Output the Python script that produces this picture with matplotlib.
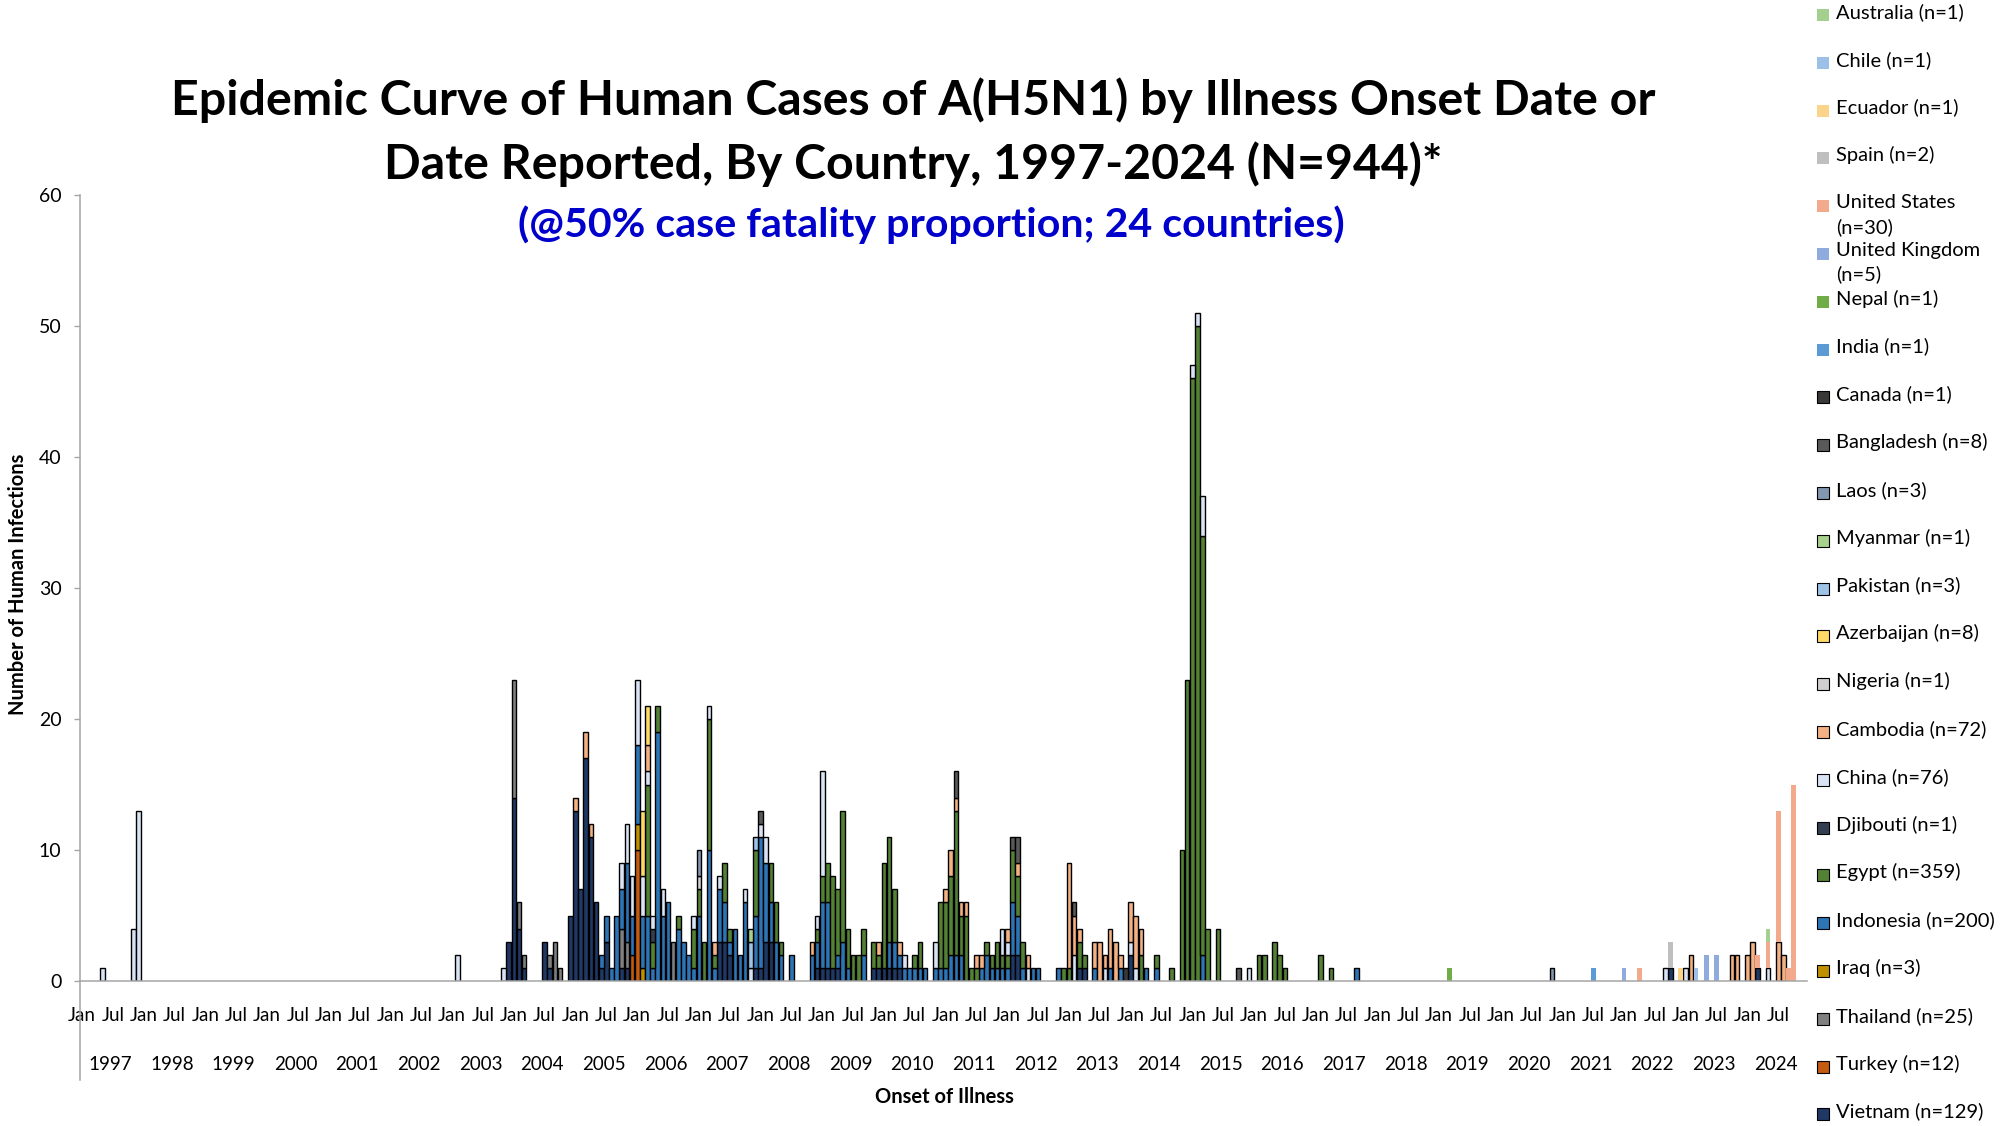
import matplotlib
matplotlib.use('Agg')
import matplotlib.pyplot as plt
from matplotlib.patches import Rectangle
from matplotlib.lines import Line2D
import matplotlib.transforms as mtransforms
import numpy as np
import pandas as pd

plt.rcParams['font.family'] = ['Lato', 'DejaVu Sans']

# monthly case counts per country (month, cases)
vietnam = [("2003-12", 3), ("2004-01", 14), ("2004-02", 4), ("2004-03", 1), ("2004-07", 3),
           ("2004-08", 1), ("2004-12", 5), ("2005-01", 13), ("2005-02", 7), ("2005-03", 17),
           ("2005-04", 11), ("2005-05", 6), ("2005-06", 1), ("2005-07", 3), ("2005-10", 1),
           ("2005-11", 1), ("2007-05", 3), ("2007-06", 3), ("2007-07", 2), ("2007-12", 1),
           ("2008-01", 1), ("2008-02", 3), ("2008-03", 3), ("2008-12", 1), ("2009-01", 1),
           ("2009-02", 1), ("2009-03", 1), ("2009-04", 1), ("2009-11", 1), ("2009-12", 1),
           ("2010-01", 1), ("2010-02", 1), ("2010-03", 1), ("2010-04", 1), ("2012-02", 2),
           ("2012-03", 2), ("2013-03", 1), ("2013-04", 1), ("2014-01", 2), ("2022-10", 1),
           ("2024-03", 1)]
turkey = [("2005-12", 2), ("2006-01", 10)]
thailand = [("2004-01", 9), ("2004-02", 2), ("2004-03", 1), ("2004-08", 1), ("2004-09", 3),
            ("2004-10", 1), ("2005-10", 3), ("2005-11", 2), ("2006-08", 3)]
iraq = [("2006-01", 2), ("2006-02", 1)]
indonesia = [("2005-06", 1), ("2005-07", 2), ("2005-08", 1), ("2005-09", 5), ("2005-10", 3),
             ("2005-11", 6), ("2005-12", 3), ("2006-01", 6), ("2006-02", 4), ("2006-03", 5),
             ("2006-04", 1), ("2006-05", 19), ("2006-06", 5), ("2006-07", 6), ("2006-09", 4),
             ("2006-10", 3), ("2006-11", 2), ("2006-12", 1), ("2007-01", 5), ("2007-03", 10),
             ("2007-04", 1), ("2007-05", 4), ("2007-06", 3), ("2007-07", 1), ("2007-08", 4),
             ("2007-09", 2), ("2007-10", 6), ("2007-12", 4), ("2008-01", 10), ("2008-02", 6),
             ("2008-03", 3), ("2008-04", 3), ("2008-05", 2), ("2008-07", 2), ("2008-11", 2),
             ("2008-12", 2), ("2009-01", 5), ("2009-02", 5), ("2009-04", 1), ("2009-05", 3),
             ("2009-06", 1), ("2009-09", 2), ("2010-02", 2), ("2010-03", 2), ("2010-04", 1),
             ("2010-05", 1), ("2010-06", 1), ("2010-07", 1), ("2010-08", 1), ("2010-09", 1),
             ("2010-11", 1), ("2010-12", 1), ("2011-01", 1), ("2011-02", 2), ("2011-03", 2),
             ("2011-04", 2), ("2011-08", 1), ("2011-09", 2), ("2011-10", 1), ("2011-11", 1),
             ("2011-12", 1), ("2012-01", 1), ("2012-02", 4), ("2012-03", 3), ("2012-04", 1),
             ("2012-06", 1), ("2012-07", 1), ("2012-11", 1), ("2013-06", 1), ("2013-09", 1),
             ("2013-11", 1), ("2014-04", 1), ("2014-06", 1), ("2015-03", 2), ("2017-09", 1)]
egypt = [("2006-03", 10), ("2006-04", 2), ("2006-05", 2), ("2006-09", 1), ("2006-12", 3),
         ("2007-01", 2), ("2007-02", 3), ("2007-03", 10), ("2007-04", 1), ("2007-06", 3),
         ("2007-07", 1), ("2007-12", 5), ("2008-03", 3), ("2008-04", 3), ("2008-05", 1),
         ("2008-12", 1), ("2009-01", 2), ("2009-02", 3), ("2009-03", 7), ("2009-04", 5),
         ("2009-05", 10), ("2009-06", 3), ("2009-07", 2), ("2009-08", 2), ("2009-09", 2),
         ("2009-11", 2), ("2009-12", 1), ("2010-01", 8), ("2010-02", 8), ("2010-03", 4),
         ("2010-07", 1), ("2010-08", 2), ("2010-12", 5), ("2011-01", 5), ("2011-02", 6),
         ("2011-03", 11), ("2011-04", 3), ("2011-05", 5), ("2011-06", 1), ("2011-07", 1),
         ("2011-09", 1), ("2011-10", 1), ("2011-11", 2), ("2011-12", 1), ("2012-01", 1),
         ("2012-02", 4), ("2012-03", 3), ("2012-04", 2), ("2012-12", 1), ("2013-01", 1),
         ("2013-03", 2), ("2013-04", 1), ("2014-03", 2), ("2014-06", 1), ("2014-09", 1),
         ("2014-11", 10), ("2014-12", 23), ("2015-01", 46), ("2015-02", 50), ("2015-03", 32),
         ("2015-04", 4), ("2015-06", 4), ("2016-02", 2), ("2016-03", 2), ("2016-05", 3),
         ("2016-06", 2), ("2016-07", 1), ("2017-02", 2), ("2017-04", 1)]
djibouti = [("2006-04", 1)]
china = [("1997-05", 1), ("1997-11", 4), ("1997-12", 13), ("2003-02", 2), ("2003-11", 1),
         ("2005-10", 2), ("2005-11", 3), ("2005-12", 3), ("2006-01", 5), ("2006-02", 3),
         ("2006-03", 1), ("2006-04", 1), ("2006-06", 2), ("2006-12", 1), ("2007-03", 1),
         ("2007-05", 1), ("2007-10", 1), ("2007-11", 1), ("2008-01", 1), ("2008-02", 2),
         ("2008-12", 1), ("2009-01", 8), ("2010-05", 1), ("2010-11", 2), ("2011-12", 2),
         ("2012-01", 1), ("2012-05", 1), ("2013-02", 2), ("2013-08", 1), ("2014-01", 1),
         ("2014-02", 1), ("2015-01", 1), ("2015-02", 1), ("2015-03", 3), ("2015-12", 1),
         ("2022-09", 1), ("2023-01", 1), ("2024-05", 1)]
cambodia = [("2005-01", 1), ("2005-03", 2), ("2005-04", 1), ("2006-03", 2), ("2007-04", 1),
            ("2008-11", 1), ("2009-12", 1), ("2010-04", 1), ("2011-01", 1), ("2011-02", 2),
            ("2011-03", 1), ("2011-04", 1), ("2011-05", 1), ("2011-07", 1), ("2011-08", 1),
            ("2012-01", 1), ("2012-03", 1), ("2012-05", 1), ("2013-01", 8), ("2013-02", 3),
            ("2013-03", 1), ("2013-06", 2), ("2013-07", 3), ("2013-08", 1), ("2013-09", 3),
            ("2013-10", 3), ("2013-11", 1), ("2014-01", 3), ("2014-02", 4), ("2014-03", 2),
            ("2023-02", 2), ("2023-10", 2), ("2023-11", 2), ("2024-01", 2), ("2024-02", 3),
            ("2024-07", 3), ("2024-08", 2)]
nigeria = [("2007-01", 1)]
azerbaijan = [("2006-02", 5), ("2006-03", 3)]
pakistan = [("2007-11", 2), ("2007-12", 1)]
myanmar = [("2007-11", 1)]
laos = [("2007-01", 2), ("2020-11", 1)]
bangladesh = [("2008-01", 1), ("2011-03", 2), ("2012-02", 1), ("2012-03", 2), ("2013-02", 1),
              ("2015-10", 1)]
canada = [("2013-12", 1)]
india = [("2021-07", 1)]
nepal = [("2019-03", 1)]
united_kingdom = [("2022-01", 1), ("2023-05", 2), ("2023-07", 2)]
united_states = [("2022-04", 1), ("2024-03", 1), ("2024-05", 2), ("2024-07", 10),
                 ("2024-09", 1), ("2024-10", 15)]
spain = [("2022-10", 2)]
ecuador = [("2022-12", 1)]
chile = [("2023-03", 1)]
australia = [("2024-05", 1)]

# stacking order, bottom to top
countries = ["Vietnam", "Turkey", "Thailand", "Iraq", "Indonesia", "Egypt", "Djibouti", "China",
             "Cambodia", "Nigeria", "Azerbaijan", "Pakistan", "Myanmar", "Laos", "Bangladesh",
             "Canada", "India", "Nepal", "United Kingdom", "United States", "Spain", "Ecuador",
             "Chile", "Australia"]
series = [vietnam, turkey, thailand, iraq, indonesia, egypt, djibouti, china, cambodia, nigeria,
          azerbaijan, pakistan, myanmar, laos, bangladesh, canada, india, nepal, united_kingdom,
          united_states, spain, ecuador, chile, australia]
legend_labels = ["Vietnam (n=129)", "Turkey (n=12)", "Thailand (n=25)", "Iraq (n=3)",
                 "Indonesia (n=200)", "Egypt (n=359)", "Djibouti (n=1)", "China (n=76)",
                 "Cambodia (n=72)", "Nigeria (n=1)", "Azerbaijan (n=8)", "Pakistan (n=3)",
                 "Myanmar (n=1)", "Laos (n=3)", "Bangladesh (n=8)", "Canada (n=1)",
                 "India (n=1)", "Nepal (n=1)", "United Kingdom\n(n=5)", "United States\n(n=30)",
                 "Spain (n=2)", "Ecuador (n=1)", "Chile (n=1)", "Australia (n=1)"]
colors = ["#1f3864", "#c55a11", "#808080", "#bf9000", "#2e75b6", "#548235", "#333f50", "#dae3f3",
          "#f4b183", "#d0cece", "#ffd966", "#9dc3e6", "#a9d18e", "#8497b0", "#595959", "#3b3838",
          "#5b9bd5", "#70ad47", "#8faadc", "#f3a98b", "#bfbfbf", "#fcd38a", "#9dc0e8", "#a3cf8f"]
edged = [True] * 16 + [False] * 8

months = pd.period_range("1997-01", "2024-12", freq="M")
counts = pd.DataFrame(0, index=months.astype(str), columns=countries)
for name, pairs in zip(countries, series):
    for mon, n in pairs:
        counts.loc[mon, name] = n

W, H = 2013, 1126
fig = plt.figure(figsize=(W / 100, H / 100), dpi=100)
ax = fig.add_axes([79.5 / W, (H - 981) / H, 336 * 5.14 / W, (981 - 195) / H])

x = np.arange(len(months))
bottom = np.zeros(len(months))
for name, col, edge in zip(countries, colors, edged):
    v = counts[name].values.astype(float)
    m = v > 0
    if m.any():
        ax.bar(x[m], v[m], bottom=bottom[m], width=0.9, color=col,
               edgecolor="black" if edge else "none", linewidth=1.0 if edge else 0)
    bottom += v

ax.set_xlim(-0.5, len(months) - 0.5)
ax.set_ylim(0, 60)
ax.set_yticks(range(0, 61, 10))
ax.tick_params(axis="y", length=4, color="#a6a6a6", width=1, labelsize=14, pad=9)
xt = np.arange(0, len(months), 6)
ax.set_xticks(xt)
ax.set_xticklabels(["Jan" if i % 2 == 0 else "Jul" for i in range(len(xt))])
ax.tick_params(axis="x", length=0, labelsize=13.5, pad=19)
for s in ["top", "right"]:
    ax.spines[s].set_visible(False)
for s in ["left", "bottom"]:
    ax.spines[s].set_color("#a6a6a6")
    ax.spines[s].set_linewidth(1.1)
ax.add_line(Line2D([0, 0], [0, -0.126], transform=ax.transAxes, color="#a6a6a6",
                   linewidth=1.1, clip_on=False))

trans = mtransforms.blended_transform_factory(ax.transData, ax.transAxes)
for yr in range(1997, 2025):
    ax.text((yr - 1997) * 12 + 5.5, -(1065 - 981) / 786, str(yr), transform=trans,
            ha="center", va="center", fontsize=13.5)

fig.text(944 / W, 1 - 1097 / H, "Onset of Illness", ha="center", va="center",
         fontsize=14.5, fontweight="bold")
fig.text(18 / W, 1 - 584 / H, "Number of Human Infections", ha="center", va="center",
         rotation=90, fontsize=14.5, fontweight="bold")

t1 = fig.text(913 / W, 1 - 100 / H,
              "Epidemic Curve of Human Cases of A(H5N1) by Illness Onset Date or",
              ha="center", va="center", fontsize=32, fontweight="bold")
t2 = fig.text(913 / W, 1 - 164 / H,
              "Date Reported, By Country, 1997-2024 (N=944)*",
              ha="center", va="center", fontsize=32, fontweight="bold")
t3 = fig.text(931 / W, 1 - 225 / H, "(@50% case fatality proportion; 24 countries)",
              ha="center", va="center", fontsize=26, fontweight="bold", color="#0000cc")

# scale title fonts to the widths in the original
renderer = fig.canvas.get_renderer()
for t, target in [(t1, 1486), (t3, 827)]:
    wpx = t.get_window_extent(renderer).width
    t.set_fontsize(t.get_fontsize() * target / wpx)
t2.set_fontsize(t1.get_fontsize())

# legend, top entry is the last stacked series
for i, k in enumerate(range(len(countries) - 1, -1, -1)):
    yc = 15 + i * 47.8
    fig.patches.append(Rectangle((1817 / W, 1 - (yc + 6) / H), 12 / W, 12 / H,
                                 transform=fig.transFigure, facecolor=colors[k],
                                 edgecolor="black" if edged[k] else "none",
                                 linewidth=0.8))
    fig.text(1836 / W, 1 - (yc - 12) / H, legend_labels[k], ha="left", va="top",
             fontsize=14.5, linespacing=1.45)

fig.savefig("out.png", dpi=100)
